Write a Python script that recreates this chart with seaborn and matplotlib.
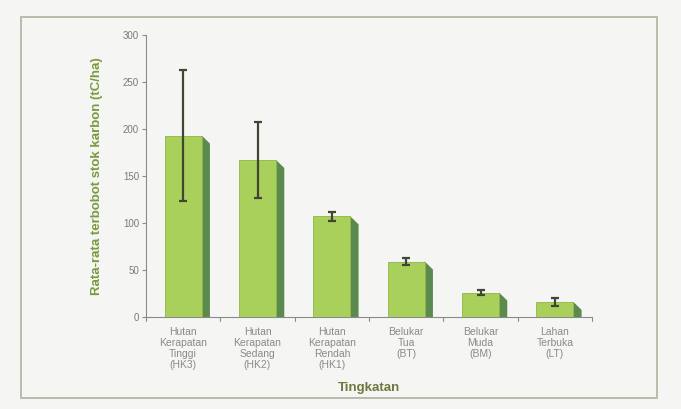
import matplotlib
matplotlib.use('Agg')
import matplotlib.pyplot as plt
import seaborn as sns
import pandas as pd
from matplotlib.patches import Polygon, Rectangle

# Data
kategori = ['Hutan\nKerapatan\nTinggi\n(HK3)', 'Hutan\nKerapatan\nSedang\n(HK2)',
            'Hutan\nKerapatan\nRendah\n(HK1)', 'Belukar\nTua\n(BT)',
            'Belukar\nMuda\n(BM)', 'Lahan\nTerbuka\n(LT)']
rata_rata = [193, 167, 107, 59, 26, 16]
galat = [70, 40, 5, 4, 3, 4]

df = pd.DataFrame({'kategori': kategori, 'nilai': rata_rata})

sns.set_style('white')
plt.rcParams['font.family'] = ['Liberation Sans', 'DejaVu Sans']
narrow = ['Liberation Sans Narrow', 'Liberation Sans', 'DejaVu Sans']

bg = '#f5f5f3'
fig = plt.figure(figsize=(6.81, 4.09), dpi=100, facecolor=bg)
ax = fig.add_axes([146/681, 1-317/409, (592-146)/681, (317-35)/409])
ax.set_facecolor(bg)

# bingkai luar
fig.patches.append(Rectangle((21/681, 1-398/409), (657-21)/681, (398-17)/409,
                             transform=fig.transFigure, fill=False,
                             edgecolor='#b9bca9', linewidth=1.4, zorder=0))

sns.barplot(data=df, x='kategori', y='nilai', color='#a9d05a', saturation=1,
            width=0.5, edgecolor='#8fb548', linewidth=0.6, ax=ax, zorder=3)

# efek 3D: sisi samping batang
dx, dy = 0.11, 8.5
for p in ax.patches:
    x0 = p.get_x() + p.get_width()
    top = p.get_height()
    side = Polygon([(x0, top), (x0 + dx, top - dy), (x0 + dx, 0), (x0, 0)],
                   closed=True, facecolor='#5b8a4f', edgecolor='none', zorder=2.5)
    ax.add_patch(side)

ax.errorbar(range(len(rata_rata)), rata_rata, yerr=galat, fmt='none',
            ecolor='#3f4636', elinewidth=1.6, capsize=3, capthick=1.6, zorder=5)

ax.set_ylim(0, 300)
ax.set_xlim(-0.5, len(kategori) - 0.5)
ax.set_yticks(range(0, 301, 50))
ax.tick_params(axis='y', labelsize=6.5, labelcolor='#7a7a7a', length=3,
               color='#8a8a8a', direction='out', left=True, pad=2)
ax.tick_params(axis='x', length=0, pad=7)
for t in ax.get_yticklabels():
    t.set_family(narrow)
    t.set_fontsize(7)
for t in ax.get_xticklabels():
    t.set_family(narrow)
    t.set_fontsize(7.5)
    t.set_color('#8a8a8a')
    t.set_linespacing(1.12)

# tanda sumbu x di batas kategori
for xb in [i - 0.5 for i in range(len(kategori) + 1)]:
    ax.plot([xb, xb], [0, -4], color='#8a8a8a', lw=0.8, clip_on=False, zorder=1)

for s in ['top', 'right']:
    ax.spines[s].set_visible(False)
for s in ['left', 'bottom']:
    ax.spines[s].set_color('#8a8a8a')
    ax.spines[s].set_linewidth(0.8)

ax.set_ylabel('Rata-rata terbobot stok karbon (tC/ha)', fontsize=9.5,
              fontweight='bold', color='#7a9a3c', labelpad=14)
ax.set_xlabel('Tingkatan', fontsize=9.5, fontweight='bold', color='#6b7a3c',
              labelpad=9)

fig.savefig('out.png', dpi=100, facecolor=bg)
